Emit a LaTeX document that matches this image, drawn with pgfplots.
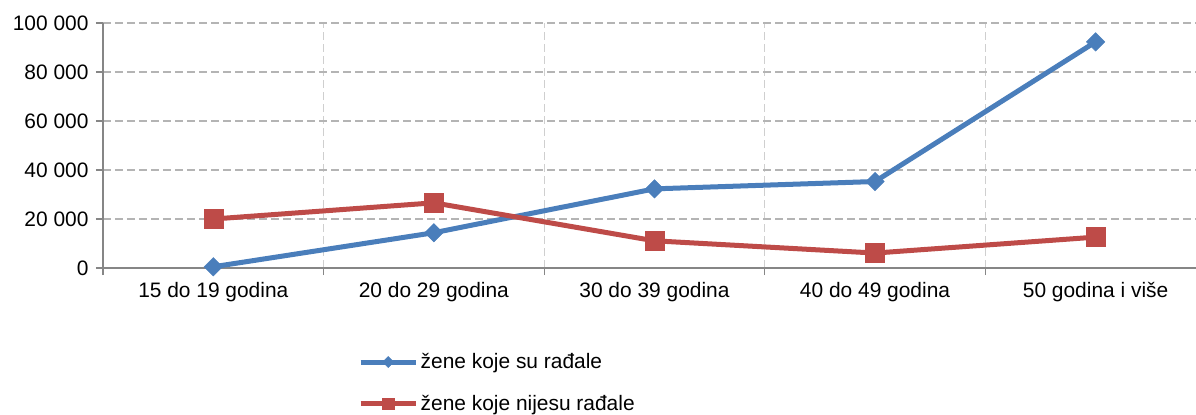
\documentclass[border=0pt]{standalone}
\usepackage{pgfplots}
\pgfplotsset{compat=1.18}
\usepackage{fontspec}
\setmainfont{Liberation Sans}
\definecolor{sblue}{HTML}{4A7EBB}
\definecolor{sred}{HTML}{BE4B48}
\definecolor{axgray}{HTML}{868686}
\definecolor{ygrid}{HTML}{B4B4B4}
\definecolor{xgrid}{HTML}{CFCFCF}
\begin{document}
\begin{tikzpicture}
\useasboundingbox (-103bp,-147bp) rectangle (1093bp,268bp);
\clip (-103bp,-147bp) rectangle (1093bp,268bp);
\begin{axis}[
  scale only axis, width=1093bp, height=245bp,
  xmin=-0.5, xmax=4.455, ymin=0, ymax=100000,
  axis x line=bottom, axis y line=left,
  axis line style={-, draw=axgray, line width=1.3bp},
  xtick={0,1,2,3,4},
  xticklabels={15 do 19 godina,20 do 29 godina,30 do 39 godina,40 do 49 godina,50 godina i više},
  major x tick style={draw=none},
  minor xtick={-0.5,0.5,1.5,2.5,3.5},
  minor x tick style={draw=axgray, line width=1.3bp},
  minor tick length=7bp,
  minor x grid style={xgrid, line width=1.2bp, dash pattern=on 8bp off 4bp},
  xminorgrids=true,
  ytick={0,20000,40000,60000,80000,100000},
  ymajorgrids=true,
  major y grid style={ygrid, line width=1.2bp, dash pattern=on 8bp off 4bp},
  major y tick style={draw=axgray, line width=1.3bp},
  major tick length=7bp,
  tick align=outside,
  scaled y ticks=false,
  yticklabel={\pgfmathprintnumber[fixed, precision=0, 1000 sep={\ }, assume math mode=true]{\tick}},
  tick label style={font=\fontsize{21}{25}\selectfont, text=black},
  yticklabel style={xshift=-4bp},
  xticklabel style={yshift=-4bp},
  legend style={at={(axis description cs:0.2333,-0.469)}, anchor=west, draw=none, fill=none,
    inner sep=0pt, font=\fontsize{21}{25}\selectfont, row sep=20bp,
    nodes={inner sep=2.5bp}},
  legend cell align=left,
  legend image code/.code={\draw[mark repeat=2,mark phase=2,#1,every mark/.append style={scale=0.6}] plot coordinates {(0bp,0bp) (27.5bp,0bp) (55bp,0bp)};},
  clip=false,
]
\addplot[color=sblue, line width=5bp, mark=square*, mark size=6.5bp, mark options={rotate=45, solid, fill=sblue, line width=0.5bp}]
  coordinates {(0,500) (1,14400) (2,32300) (3,35300) (4,92300)};
\addlegendentry{žene koje su rađale}
\addplot[color=sred, line width=5bp, mark=square*, mark size=9.5bp, mark options={solid, fill=sred, line width=0.5bp}]
  coordinates {(0,20000) (1,26600) (2,11100) (3,6100) (4,12600)};
\addlegendentry{žene koje nijesu rađale}
\end{axis}
\end{tikzpicture}
\end{document}
